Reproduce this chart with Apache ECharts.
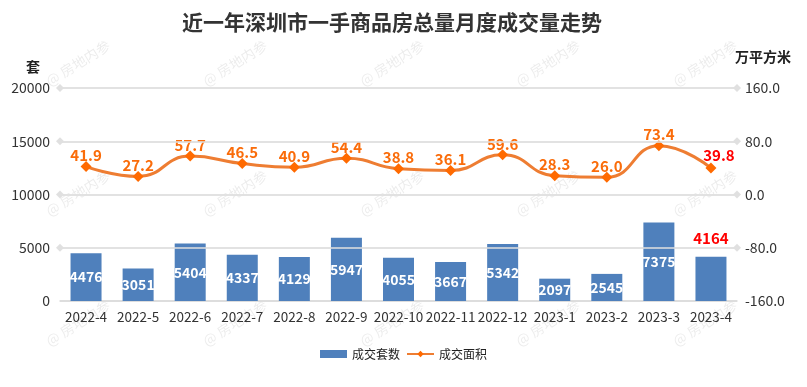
<!DOCTYPE html>
<html><head><meta charset="utf-8">
<script src="https://cdn.jsdelivr.net/npm/echarts@6/dist/echarts.min.js"></script>
<style>html,body{margin:0;padding:0;background:#fff}#c{width:807px;height:387px}</style>
</head><body><div id="c"></div>
<script>
const categories = ['2022-4','2022-5','2022-6','2022-7','2022-8','2022-9','2022-10','2022-11','2022-12','2023-1','2023-2','2023-3','2023-4'];
const units = [4476,3051,5404,4337,4129,5947,4055,3667,5342,2097,2545,7375,4164];
const area = [41.9,27.2,57.7,46.5,40.9,54.4,38.8,36.1,59.6,28.3,26.0,73.4,39.8];
const leftTicks = [5000,10000,15000,20000];
const watermarkText = '@ 房地内参';

const FONT = '"Noto Sans CJK SC","Microsoft YaHei",sans-serif';
const chart = echarts.init(document.getElementById('c'));
const last = units.length - 1;

const marks = [];
[63,193,323].forEach(y=>{
  [78,235,392,548,705].forEach(x=>{
    marks.push({type:'text',x:x,y:y,rotation:32*Math.PI/180,z:-10,silent:true,
      style:{text:watermarkText,fill:'rgba(0,0,0,0.08)',font:'14px '+FONT,textAlign:'center',textVerticalAlign:'middle'}});
  });
});

chart.setOption({
  animation:false,
  textStyle:{fontFamily:FONT},
  graphic:marks,
  title:{text:'近一年深圳市一手商品房总量月度成交量走势',left:177,top:7,
    textStyle:{fontSize:21,fontWeight:'bold',color:'#333',fontFamily:FONT}},
  legend:{top:343,left:'center',itemWidth:27,itemHeight:8,itemGap:6,
    textStyle:{fontSize:12,color:'#222',fontFamily:FONT},
    data:[{name:'成交套数',icon:'rect'},{name:'成交面积'}]},
  grid:{left:60,right:70,top:88,bottom:86},
  xAxis:{type:'category',data:categories,
    axisLine:{lineStyle:{color:'#d9d9d9',width:1.5}},axisTick:{show:false},
    axisLabel:{fontSize:13.5,color:'#333',margin:9,interval:0}},
  yAxis:[
    {type:'value',min:0,max:20000,interval:5000,name:'套',
     nameTextStyle:{fontSize:14,fontWeight:'bold',color:'#222',align:'right',padding:[0,20,2,0]},
     nameGap:12,
     axisLabel:{fontSize:14,color:'#333',margin:10,formatter:v=>String(v)},
     axisLine:{show:false},axisTick:{show:false},
     splitLine:{lineStyle:{color:'#e0e0e0',width:1.5}}},
    {type:'value',min:-160,max:160,interval:80,name:'万平方米',
     nameTextStyle:{fontSize:14,fontWeight:'bold',color:'#222',align:'left',padding:[0,0,8,-2]},
     nameGap:16,
     axisLabel:{fontSize:14,color:'#333',margin:8,formatter:v=>v.toFixed(1)},
     axisLine:{show:false},axisTick:{show:false},splitLine:{show:false}}
  ],
  series:[
    {name:'成交套数',type:'bar',yAxisIndex:0,barWidth:31,
     itemStyle:{color:'#4f80bc'},
     data:units.map((v,i)=>i===last?{value:v,label:{position:'top',color:'#ff0000',distance:11,fontSize:15}}:v),
     label:{show:true,position:'inside',color:'#fff',fontWeight:'bold',fontSize:14,fontFamily:FONT},
     markLine:{silent:true,symbol:['diamond','diamond'],symbolSize:[8,8],
       label:{show:false},
       lineStyle:{color:'#e0e0e0',width:1.5,type:'solid'},
       itemStyle:{color:'#cfcfcf'},
       data:leftTicks.map(v=>({yAxis:v}))}},
    {name:'成交面积',type:'line',yAxisIndex:1,smooth:true,
     symbol:'diamond',symbolSize:11,
     lineStyle:{color:'#ee7d32',width:3},
     itemStyle:{color:'#ff6a00'},
     data:area.map((v,i)=>i===last?{value:v,label:{color:'#ff0000',offset:[8,-2]}}:v),
     label:{show:true,position:'top',distance:-2,color:'#fa6c0a',fontWeight:'bold',fontSize:15,fontFamily:FONT,
       formatter:p=>Number(p.value).toFixed(1)}}
  ]
});
</script></body></html>
